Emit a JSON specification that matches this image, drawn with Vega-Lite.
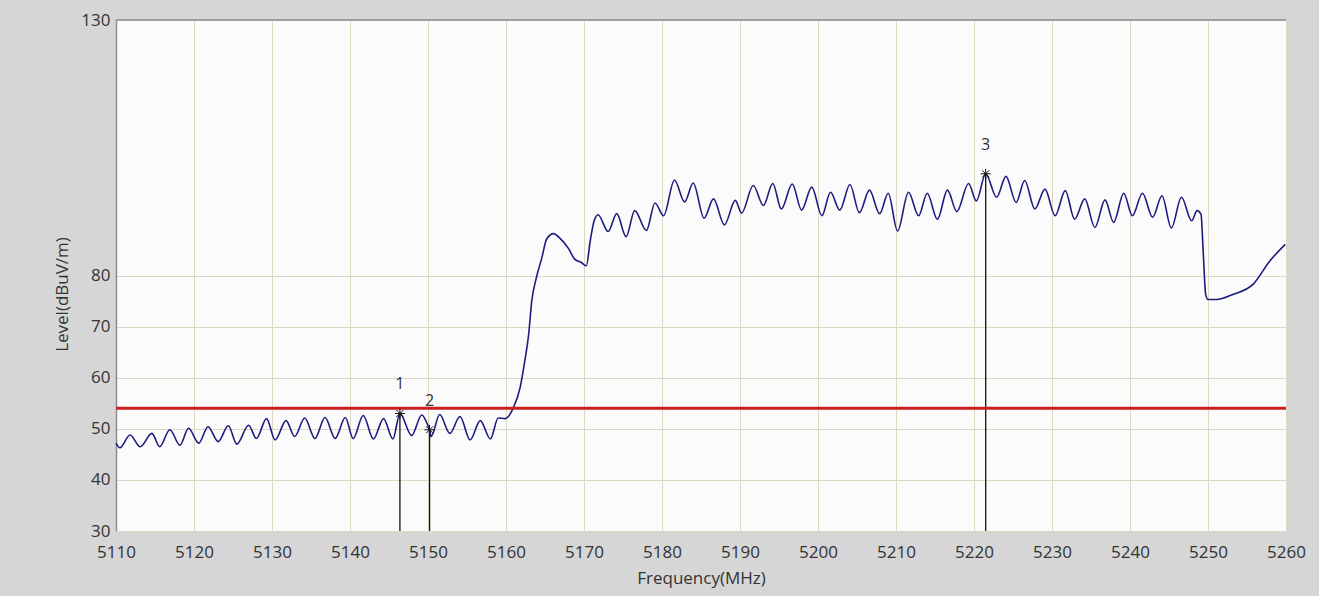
{
  "$schema": "https://vega.github.io/schema/vega-lite/v6.json",
  "autosize": {"type": "none"},
  "width": 1170,
  "height": 511,
  "padding": {"left": 116, "top": 20, "right": 33, "bottom": 65},
  "background": "#d6d6d6",
  "config": {
    "view": {"fill": "#fbfbfb", "stroke": null},
    "axis": {
      "labelFont": "Open Sans",
      "labelFontSize": 17,
      "labelColor": "#333333",
      "titleFont": "Open Sans",
      "titleFontSize": 17,
      "titleFontWeight": "normal",
      "titleColor": "#333333",
      "ticks": false,
      "labelFlush": false,
      "labelOverlap": false,
      "gridColor": "#ddd8c4",
      "gridWidth": 1,
      "gridOpacity": 1
    }
  },
  "datasets": {
    "trace": [
      {"f": 5110.0, "level": 47.2}, {"f": 5110.5, "level": 46.3}, {"f": 5111.8, "level": 48.8},
      {"f": 5113.1, "level": 46.5}, {"f": 5114.6, "level": 49.1}, {"f": 5115.6, "level": 46.5},
      {"f": 5116.9, "level": 49.8}, {"f": 5118.2, "level": 46.8}, {"f": 5119.3, "level": 50.1},
      {"f": 5120.6, "level": 47.2}, {"f": 5121.8, "level": 50.4}, {"f": 5123.1, "level": 47.5},
      {"f": 5124.4, "level": 50.6}, {"f": 5125.5, "level": 47.0}, {"f": 5127.0, "level": 50.7},
      {"f": 5128.0, "level": 48.1}, {"f": 5129.3, "level": 52.0}, {"f": 5130.4, "level": 47.8},
      {"f": 5131.8, "level": 51.6}, {"f": 5132.9, "level": 48.5}, {"f": 5134.2, "level": 52.1},
      {"f": 5135.5, "level": 48.1}, {"f": 5136.8, "level": 52.2}, {"f": 5138.1, "level": 48.1},
      {"f": 5139.4, "level": 52.2}, {"f": 5140.4, "level": 48.1}, {"f": 5141.7, "level": 52.6},
      {"f": 5143.0, "level": 48.0}, {"f": 5144.3, "level": 52.0}, {"f": 5145.5, "level": 48.0},
      {"f": 5146.4, "level": 53.0}, {"f": 5147.9, "level": 48.7}, {"f": 5149.2, "level": 52.7},
      {"f": 5150.0, "level": 50.6}, {"f": 5150.2, "level": 49.8}, {"f": 5150.4, "level": 48.5},
      {"f": 5151.5, "level": 52.8}, {"f": 5152.8, "level": 49.1}, {"f": 5154.1, "level": 52.4},
      {"f": 5155.4, "level": 47.8}, {"f": 5156.7, "level": 51.6}, {"f": 5158.0, "level": 48.0},
      {"f": 5159.0, "level": 52.1}, {"f": 5159.9, "level": 52.0}, {"f": 5160.3, "level": 52.4},
      {"f": 5160.9, "level": 54.0}, {"f": 5161.8, "level": 58.0}, {"f": 5162.4, "level": 63.2},
      {"f": 5162.9, "level": 68.4}, {"f": 5163.3, "level": 75.0}, {"f": 5163.9, "level": 79.6},
      {"f": 5164.6, "level": 83.5}, {"f": 5165.2, "level": 87.1}, {"f": 5166.1, "level": 88.2},
      {"f": 5166.9, "level": 87.3}, {"f": 5168.0, "level": 85.3}, {"f": 5168.8, "level": 83.2},
      {"f": 5169.7, "level": 82.5}, {"f": 5170.3, "level": 81.9}, {"f": 5170.8, "level": 86.8},
      {"f": 5171.3, "level": 90.7}, {"f": 5171.8, "level": 91.9}, {"f": 5173.1, "level": 88.6},
      {"f": 5174.2, "level": 92.1}, {"f": 5175.4, "level": 87.6}, {"f": 5176.5, "level": 92.7},
      {"f": 5178.0, "level": 88.8}, {"f": 5179.1, "level": 94.2}, {"f": 5180.2, "level": 91.7},
      {"f": 5181.6, "level": 98.7}, {"f": 5182.9, "level": 94.4}, {"f": 5184.0, "level": 98.1},
      {"f": 5185.4, "level": 91.2}, {"f": 5186.6, "level": 95.0}, {"f": 5188.0, "level": 89.9},
      {"f": 5189.4, "level": 94.7}, {"f": 5190.2, "level": 92.2}, {"f": 5191.7, "level": 97.6},
      {"f": 5193.0, "level": 93.7}, {"f": 5194.2, "level": 98.0}, {"f": 5195.3, "level": 93.0},
      {"f": 5196.7, "level": 97.9}, {"f": 5197.9, "level": 92.8}, {"f": 5199.2, "level": 97.3},
      {"f": 5200.5, "level": 91.7}, {"f": 5201.6, "level": 96.3}, {"f": 5202.8, "level": 92.8},
      {"f": 5204.1, "level": 97.8}, {"f": 5205.3, "level": 92.3}, {"f": 5206.6, "level": 96.7},
      {"f": 5207.9, "level": 92.1}, {"f": 5209.0, "level": 96.1}, {"f": 5210.2, "level": 88.7},
      {"f": 5211.6, "level": 96.3}, {"f": 5212.9, "level": 91.7}, {"f": 5214.0, "level": 96.1},
      {"f": 5215.3, "level": 91.0}, {"f": 5216.6, "level": 96.7}, {"f": 5217.8, "level": 92.5},
      {"f": 5219.3, "level": 98.0}, {"f": 5220.3, "level": 94.6}, {"f": 5221.5, "level": 99.9},
      {"f": 5222.9, "level": 95.3}, {"f": 5224.1, "level": 99.4}, {"f": 5225.4, "level": 94.3},
      {"f": 5226.5, "level": 98.6}, {"f": 5227.8, "level": 93.0}, {"f": 5229.1, "level": 96.9},
      {"f": 5230.4, "level": 91.7}, {"f": 5231.7, "level": 96.6}, {"f": 5232.9, "level": 91.0},
      {"f": 5234.2, "level": 95.0}, {"f": 5235.5, "level": 89.4}, {"f": 5236.8, "level": 94.8},
      {"f": 5237.9, "level": 90.4}, {"f": 5239.2, "level": 96.1}, {"f": 5240.3, "level": 91.7},
      {"f": 5241.6, "level": 96.1}, {"f": 5242.9, "level": 91.4}, {"f": 5244.1, "level": 95.6},
      {"f": 5245.3, "level": 89.3}, {"f": 5246.6, "level": 95.3}, {"f": 5247.9, "level": 90.7},
      {"f": 5248.6, "level": 92.7}, {"f": 5249.1, "level": 92.0}, {"f": 5249.4, "level": 84.2},
      {"f": 5249.7, "level": 76.3}, {"f": 5250.0, "level": 75.3}, {"f": 5251.1, "level": 75.3},
      {"f": 5253.2, "level": 76.3}, {"f": 5255.8, "level": 78.3}, {"f": 5257.9, "level": 82.8},
      {"f": 5259.9, "level": 86.1}
    ],
    "markers": [
      {"f": 5146.4, "level": 53.0, "label": "1"},
      {"f": 5150.2, "level": 49.8, "label": "2"},
      {"f": 5221.5, "level": 99.9, "label": "3"}
    ],
    "limits": [
      {"name": "limit", "level": 54}
    ],
    "frame": [
      {"level": 130}
    ]
  },
  "layer": [
    {
      "data": {"name": "trace"},
      "mark": {"type": "line", "color": "#1c1c7e", "strokeWidth": 1.6, "interpolate": "monotone"},
      "encoding": {
        "x": {
          "field": "f", "type": "quantitative",
          "scale": {"domain": [5110, 5260], "nice": false, "zero": false},
          "axis": {
            "values": [5110, 5120, 5130, 5140, 5150, 5160, 5170, 5180, 5190, 5200, 5210, 5220, 5230, 5240, 5250, 5260],
            "format": "d",
            "title": "Frequency(MHz)",
            "domain": false,
            "labelPadding": 13,
            "titleY": 47,
            "titleBaseline": "middle"
          }
        },
        "y": {
          "field": "level", "type": "quantitative",
          "scale": {"domain": [30, 130], "nice": false, "zero": false},
          "axis": {
            "values": [30, 40, 50, 60, 70, 80, 130],
            "title": "Level(dBuV/m)",
            "domain": true,
            "domainColor": "#8c8c8c",
            "domainWidth": 1.5,
            "labelPadding": 6,
            "titleX": -54,
            "titleY": 274,
            "titleAngle": -90,
            "titleBaseline": "middle"
          }
        }
      }
    },
    {
      "data": {"name": "frame"},
      "mark": {"type": "rule", "color": "#8c8c8c", "strokeWidth": 1.5},
      "encoding": {"y": {"field": "level", "type": "quantitative"}}
    },
    {
      "data": {"name": "markers"},
      "mark": {"type": "rule", "color": "#111111", "strokeWidth": 1.3},
      "encoding": {
        "x": {"field": "f", "type": "quantitative"},
        "y": {"field": "level", "type": "quantitative"},
        "y2": {"datum": 30}
      }
    },
    {
      "data": {"name": "limits"},
      "mark": {"type": "rule", "color": "#cc1f1f", "strokeWidth": 3},
      "encoding": {"y": {"field": "level", "type": "quantitative"}}
    },
    {
      "data": {"name": "markers"},
      "mark": {
        "type": "point",
        "shape": "M-1,0L1,0M0,-1L0,1M-0.7,-0.7L0.7,0.7M-0.7,0.7L0.7,-0.7",
        "filled": false,
        "stroke": "#111111",
        "strokeWidth": 1,
        "size": 100,
        "opacity": 1
      },
      "encoding": {
        "x": {"field": "f", "type": "quantitative"},
        "y": {"field": "level", "type": "quantitative"}
      }
    },
    {
      "data": {"name": "markers"},
      "mark": {"type": "text", "dy": -29, "font": "Open Sans", "fontSize": 16, "color": "#333333"},
      "encoding": {
        "x": {"field": "f", "type": "quantitative"},
        "y": {"field": "level", "type": "quantitative"},
        "text": {"field": "label"}
      }
    }
  ]
}
